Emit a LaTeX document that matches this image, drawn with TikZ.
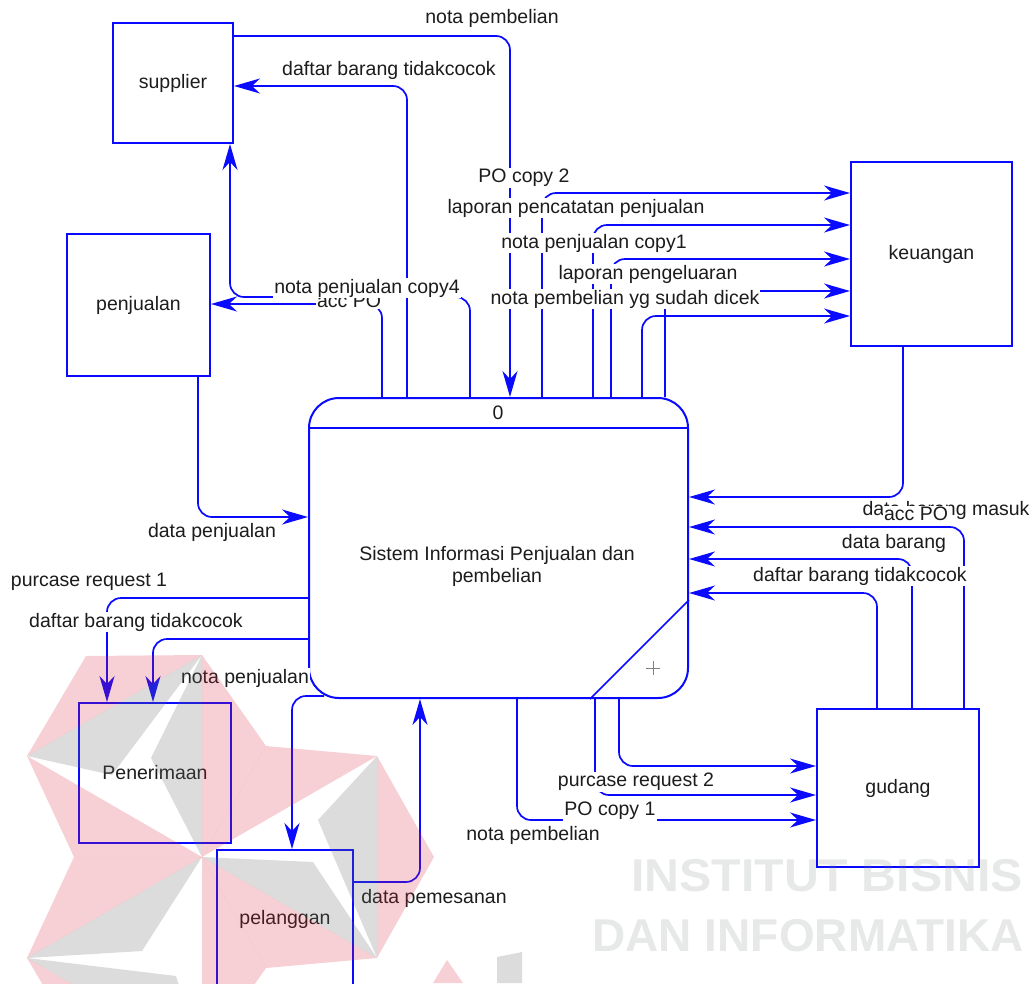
\documentclass[tikz,border=0pt]{standalone}
\usepackage{fontspec}
\setmainfont{Liberation Sans}
\usetikzlibrary{arrows.meta,calc}
\definecolor{dfdblue}{RGB}{10,10,255}
\definecolor{txt}{RGB}{28,28,28}
\definecolor{wmred}{RGB}{215,40,60}
\definecolor{wmdark}{RGB}{110,110,110}
\definecolor{wmletter}{RGB}{120,130,130}
\newcommand{\lblfont}{\fontsize{19.5}{22}\selectfont}
\begin{document}
\begin{tikzpicture}[x=1pt,y=-1pt,
  entity/.style={draw=dfdblue, line width=2pt, text=txt, font=\lblfont, inner sep=0pt},
  flow/.style={draw=dfdblue, line width=1.7pt, rounded corners=14pt,
    -{Stealth[length=26pt,width=15pt,inset=8pt]}},
  lab/.style={text=txt, fill=white, inner sep=1pt, font=\lblfont},
  wmtext/.style={text=wmletter, text opacity=0.18, font=\fontsize{46}{50}\selectfont\bfseries},
  wmpink/.style={fill=wmred, fill opacity=0.22},
  wmgray/.style={fill=wmdark, fill opacity=0.24}]
\useasboundingbox (0,0) rectangle (1033,983);
\clip (0,0) rectangle (1033,983);

% external entities
\node[entity, minimum width=120pt, minimum height=120pt] (supplier) at (173,83) {supplier};
\node[entity, minimum width=143pt, minimum height=142pt] (penjualan) at (138.5,305) {penjualan};
\node[entity, minimum width=161pt, minimum height=184pt] (keuangan) at (931.5,254) {keuangan};
\node[entity, minimum width=162pt, minimum height=158pt] (gudang) at (898,788) {gudang};
\node[entity, minimum width=152pt, minimum height=140pt] (penerimaan) at (155,773) {Penerimaan};
\node[entity, minimum width=136pt, minimum height=138pt] (pelanggan) at (285,919) {pelanggan};

% process 0
\node[draw=dfdblue, line width=2pt, rounded corners=30pt, minimum width=379pt,
      minimum height=300pt] (proc) at (498.5,548) {};
\draw[dfdblue, line width=1.7pt] (proc.north west |- 0,428) -- (proc.north east |- 0,428);
\draw[dfdblue, line width=1.7pt] (proc.east |- 0,600) -- (proc.south -| 590,0);
\node[text=txt, font=\lblfont] (pnum) at (498,413) {0};
\node[text=txt, font=\lblfont, align=center, text depth=0pt] (ptext) at (497,564)
  {\fontsize{19.5}{28}\selectfont Sistem Informasi Penjualan dan\\pembelian};
\draw[gray, line width=0.9pt] (646,668) -- (660,668) (653,661) -- (653,675);

% flows at the top
\draw[flow] (supplier.east |- 0,36) -| (proc.north -| 510,0);
\draw[flow] (proc.north -| 407,0) |- (supplier.east |- 0,86);
\draw[flow] (proc.north -| 470,0) |- (230,297) -- (supplier.south -| 230,0);
\draw[flow] (proc.north -| 382,0) |- (penjualan.east |- 0,304);
\draw[flow] (proc.north -| 542,0) |- (keuangan.west |- 0,193);
\draw[flow] (proc.north -| 593,0) |- (keuangan.west |- 0,225);
\draw[flow] (proc.north -| 611,0) |- (keuangan.west |- 0,259);
\draw[flow] (proc.north -| 665,0) |- (keuangan.west |- 0,291);
\draw[flow] (proc.north -| 642,0) |- (keuangan.west |- 0,316);

% flows on the right
\draw[flow] (keuangan.south -| 903,0) |- (proc.east |- 0,497);
\draw[flow] (gudang.north -| 964,0) |- (proc.east |- 0,527);
\draw[flow] (gudang.north -| 912,0) |- (proc.east |- 0,559);
\draw[flow] (gudang.north -| 877,0) |- (proc.east |- 0,593);

% flows on the left
\draw[flow] (penjualan.south -| 198,0) |- (proc.west |- 0,517);
\draw[flow] (proc.west |- 0,598) -| (penerimaan.north -| 107,0);
\draw[flow] (proc.west |- 0,639) -| (penerimaan.north -| 153,0);
\coordinate (pcorner) at ($(proc.south west)+(16,-3)$);
\draw[flow] (pcorner) -| (pelanggan.north -| 292,0);
\draw[flow] (pelanggan.east |- 0,882) -| (proc.south -| 420,0);

% flows at the bottom
\draw[flow] (proc.south -| 619,0) |- (gudang.west |- 0,766);
\draw[flow] (proc.south -| 595,0) |- (gudang.west |- 0,795);
\draw[flow] (proc.south -| 517,0) |- (gudang.west |- 0,820);

% flow labels
\node[lab] (l1) at (492,18) {nota pembelian};
\node[lab] (l2) at (389,70) {daftar barang tidakcocok};
\node[lab] (l3) at (349,301) {acc PO};
\node[lab] (l4) at (367,288) {nota penjualan copy4};
\node[lab] (l5) at (524,178) {PO copy 2};
\node[lab] (l6) at (576,208) {laporan pencatatan penjualan};
\node[lab] (l7) at (594,243) {nota penjualan copy1};
\node[lab] (l8) at (648,274) {laporan pengeluaran};
\node[lab] (l9) at (625,299) {nota pembelian yg sudah dicek};
\node[lab] (l10) at (946,510) {data barang masuk};
\node[lab] (l11) at (916,514) {acc PO};
\node[lab] (l12) at (894,543) {data barang};
\node[lab] (l13) at (860,576) {daftar barang tidakcocok};
\node[lab] (l14) at (212,532) {data penjualan};
\node[lab] (l15) at (89,582) {purcase request 1};
\node[lab] (l16) at (136,622) {daftar barang tidakcocok};
\node[lab] (l17) at (245,678) {nota penjualan};
\node[lab] (l18) at (434,898) {data pemesanan};
\node[lab] (l19) at (636,782) {purcase request 2};
\node[lab] (l20) at (610,811) {PO copy 1};
\node[lab] (l21) at (533,835) {nota pembelian};

% faint logo: three folded blades round a common centre
\coordinate (C) at (202,857);
\coordinate (T0) at (434,857);   \coordinate (A30) at (377,756);
\coordinate (N60) at (266,746);  \coordinate (A90) at (202,655);
\coordinate (T120) at (86,656);  \coordinate (A150) at (27,756);
\coordinate (N180) at (74,857);  \coordinate (A210) at (27,958);
\coordinate (T240) at (86,1058); \coordinate (A270) at (202,1059);
\coordinate (N300) at (266,968); \coordinate (A330) at (377,958);
\coordinate (M0) at (112,775);   \coordinate (M1) at (318,820);
\coordinate (M2) at (176,976);
\coordinate (Y0) at (151,758);   \coordinate (Y1) at (313,862);
\coordinate (Y2) at (142,951);
% upper-left blade
\fill[wmpink] (C) -- (N60) -- (A90) -- cycle;
\fill[wmpink] (A90) -- (T120) -- (A150) -- cycle;
\fill[wmgray] (A90) -- (A150) -- (M0) -- cycle;
\fill[wmgray] (A90) -- (Y0) -- (C) -- cycle;
\fill[wmpink] (A150) -- (N180) -- (C) -- cycle;
% right blade
\fill[wmpink] (C) -- (N300) -- (A330) -- cycle;
\fill[wmpink] (A330) -- (T0) -- (A30) -- cycle;
\fill[wmgray] (A330) -- (A30) -- (M1) -- cycle;
\fill[wmgray] (A330) -- (Y1) -- (C) -- cycle;
\fill[wmpink] (A30) -- (N60) -- (C) -- cycle;
% lower blade
\fill[wmpink] (C) -- (N180) -- (A210) -- cycle;
\fill[wmpink] (A210) -- (T240) -- (A270) -- cycle;
\fill[wmgray] (A210) -- (A270) -- (M2) -- cycle;
\fill[wmgray] (A210) -- (Y2) -- (C) -- cycle;
\fill[wmpink] (A270) -- (N300) -- (C) -- cycle;
% fragments at the lower edge
\fill[wmpink] (433,983) -- (447,960) -- (463,983) -- cycle;
\fill[wmgray] (497,957) -- (522,952) -- (522,983) -- (497,983) -- cycle;

% watermark lettering
\node[wmtext, xscale=1.05] (wm1) at (827,876) {INSTITUT BISNIS};
\node[wmtext] (wm2) at (808,936) {DAN INFORMATIKA};
\end{tikzpicture}
\end{document}
